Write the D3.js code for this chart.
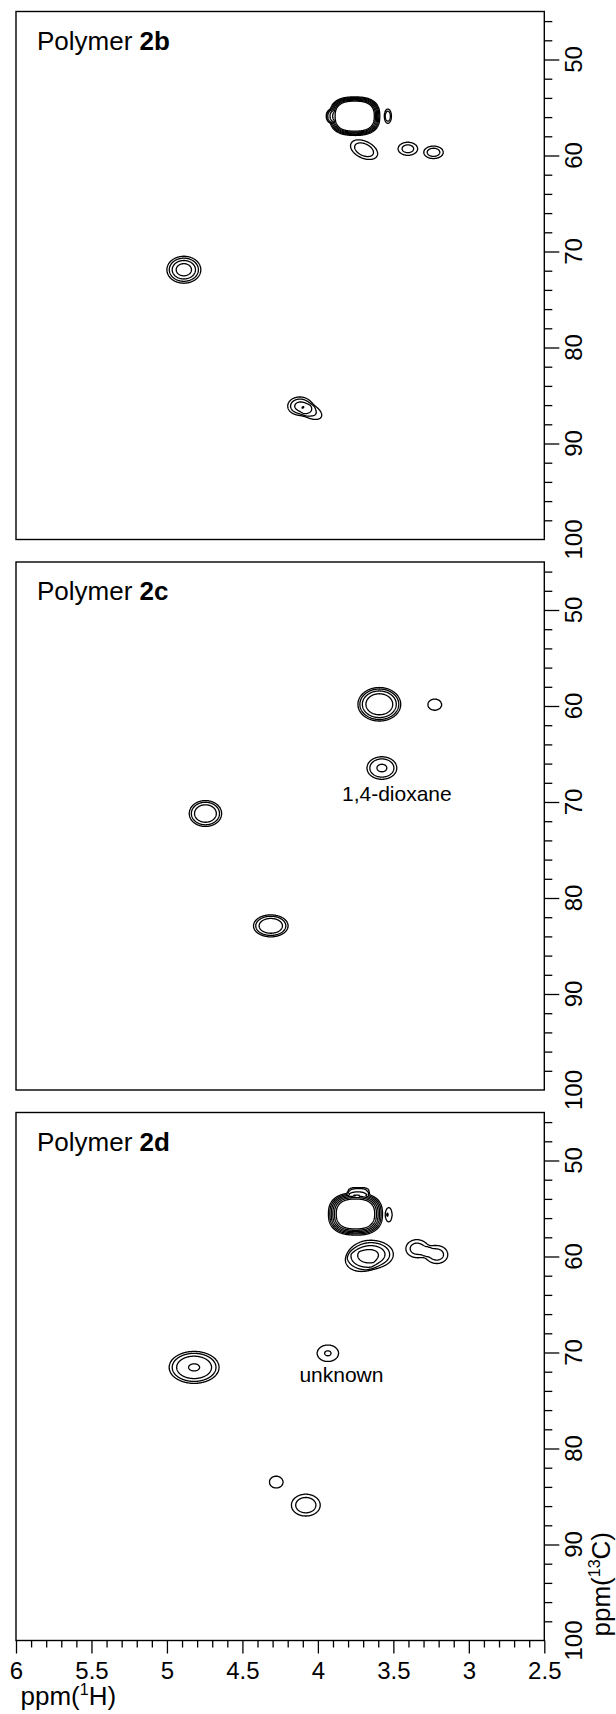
<!DOCTYPE html>
<html>
<head>
<meta charset="utf-8">
<script src="https://cdn.jsdelivr.net/npm/d3@7"></script>
<style>
  body { margin: 0; background: #fff; }
  svg { display: block; }
  text { font-family: "Liberation Sans", Arial, Helvetica, sans-serif; fill: #000; }
</style>
</head>
<body>
<svg id="chart" width="616" height="1714"></svg>
<script>
// panel names (bold part of the title)
const panelLabels = ["2b", "2c", "2d"];

// contour levels, in units of the lowest level
const levels = [1, 1.5, 2.25, 3.375, 5.06, 7.59];

// cross peaks: 1H ppm, 13C ppm, half width of lowest contour (ppm), height,
// tilt (deg), profile p, shape q, tail steepness
const peaks2b = [
  { h: 3.756, c: 55.9, wh: 0.166, wc: 2.0, amp: 180, q: 2.6 },
  { h: 3.918, c: 55.9, wh: 0.026, wc: 0.6, amp: 2.2, p: 3 },
  { h: 3.536, c: 55.9, wh: 0.024, wc: 0.75, amp: 1.8, p: 3 },
  { h: 3.694, c: 59.4, wh: 0.096, wc: 0.885, amp: 2.18, rot: 25 },
  { h: 3.404, c: 59.3, wh: 0.065, wc: 0.69, amp: 1.86 },
  { h: 3.234, c: 59.67, wh: 0.065, wc: 0.66, amp: 2.0 },
  { h: 4.888, c: 71.9, wh: 0.1126, wc: 1.406, amp: 4.6 },
  { h: 4.12, c: 86.1, wh: 0.08, wc: 0.95, amp: 2.6, tail: 1.5 },
  { h: 4.04, c: 86.75, wh: 0.07, wc: 0.65, amp: 1.5, rot: 25, tail: 1.5 },
];

const peaks2c = [
  { h: 3.593, c: 59.82, wh: 0.142, wc: 1.75, amp: 5, p: 3 },
  { h: 3.226, c: 59.86, wh: 0.0464, wc: 0.59, amp: 1.3, p: 3 },
  { h: 3.576, c: 66.46, wh: 0.0993, wc: 1.18, amp: 2.32, p: 3 },
  { h: 4.745, c: 71.2, wh: 0.1076, wc: 1.354, amp: 3.2, p: 3 },
  { h: 4.312, c: 82.9, wh: 0.115, wc: 1.15, amp: 3.2, p: 3 },
];

const peaks2d = [
  { h: 3.751, c: 55.57, wh: 0.179, wc: 2.19, amp: 60, q: 2.5 },
  { h: 3.73, c: 53.23, wh: 0.066, wc: 0.42, amp: 1.6, p: 3, q: 3 },
  { h: 3.53, c: 55.65, wh: 0.022, wc: 0.73, amp: 1.35, p: 3 },
  { h: 3.646, c: 59.78, wh: 0.146, wc: 1.46, amp: 3.7 },
  { h: 3.72, c: 60.5, wh: 0.09, wc: 1.0, amp: 1.25, tail: 1.5 },
  { h: 3.344, c: 59.18, wh: 0.073, wc: 0.94, amp: 1.9, tail: 1.5 },
  { h: 3.212, c: 59.8, wh: 0.073, wc: 0.94, amp: 1.9, tail: 1.5 },
  { h: 4.82, c: 71.55, wh: 0.1656, wc: 1.67, amp: 3.42, p: 3 },
  { h: 3.934, c: 70.08, wh: 0.0715, wc: 0.87, amp: 1.56 },
  { h: 4.276, c: 83.5, wh: 0.046, wc: 0.625, amp: 1.3 },
  { h: 4.08, c: 85.9, wh: 0.096, wc: 1.146, amp: 2.2 },
];

const panelPeaks = [peaks2b, peaks2c, peaks2d];

// text notes next to peaks
const notes2b = [];
const notes2c = [{ text: "1,4-dioxane", h: 3.477, c: 69.9 }];
const notes2d = [{ text: "unknown", h: 3.844, c: 73.04 }];
const panelNotes = [notes2b, notes2c, notes2d];

// axes
const hDomain = [6, 2.5];
const cDomain = [45, 100];
const xTickValues = [6, 5.5, 5, 4.5, 4, 3.5, 3, 2.5];
const yTickValues = [50, 60, 70, 80, 90, 100];

const plot = { left: 16, right: 544.3, top: 11.5, height: 528, step: 550.5 };
const cell = 0.5; // grid resolution in px

const svg = d3.select("#chart");

const x = d3.scaleLinear().domain(hDomain).range([plot.left, plot.right]);
const nx = Math.round((plot.right - plot.left) / cell);
const ny = Math.round(plot.height / cell);
const gx = d3.scaleLinear().domain([0, nx]).range(hDomain);
const gy = d3.scaleLinear().domain([0, ny]).range(cDomain);

const xMinor = d3.range(25, 61).map((d) => d / 10).filter((d) => !xTickValues.includes(d));
const yMinor = d3.range(46, 100, 2).filter((d) => !yTickValues.includes(d));

/** Sum of all cross peaks on the grid, in contour units. */
function field(peaks, y) {
  const prepared = peaks.map((pk) => {
    const cx = x(pk.h), cy = y(pk.c);
    const rx = Math.abs(x(pk.h - pk.wh) - cx);
    const ry = Math.abs(y(pk.c + pk.wc) - cy);
    const t = ((pk.rot || 0) * Math.PI) / 180;
    const lnA = Math.log(pk.amp);
    return {
      cx, cy, rx, ry,
      cos: Math.cos(t), sin: Math.sin(t),
      lnA, out: pk.tail || Math.max(lnA, 2.5),
      p: pk.p || 2, q: pk.q || 2,
      ext: 3.5 * Math.max(rx, ry),
    };
  });
  const xs = d3.range(nx).map((i) => x(gx(i + 0.5)));
  const values = new Float64Array(nx * ny);
  for (let j = 0; j < ny; j++) {
    const py = y(gy(j + 0.5));
    for (let i = 0; i < nx; i++) {
      const px = xs[i];
      let v = 0;
      for (const k of prepared) {
        const dx = px - k.cx, dy = py - k.cy;
        if (Math.abs(dx) > k.ext || Math.abs(dy) > k.ext) continue;
        const a = Math.abs((dx * k.cos + dy * k.sin) / k.rx);
        const b = Math.abs((-dx * k.sin + dy * k.cos) / k.ry);
        const d = k.q === 2 ? Math.sqrt(a * a + b * b) : Math.pow(Math.pow(a, k.q) + Math.pow(b, k.q), 1 / k.q);
        const e = k.p === 2 ? d * d : Math.pow(d, k.p);
        v += Math.exp((d < 1 ? k.lnA : k.out) * (1 - e));
      }
      values[j * nx + i] = v;
    }
  }
  return values;
}

panelLabels.forEach((label, idx) => {
  const top = plot.top + idx * plot.step;
  const y = d3.scaleLinear().domain(cDomain).range([top, top + plot.height]);
  const g = svg.append("g").attr("class", "panel");

  g.append("clipPath")
    .attr("id", `clip-${idx}`)
    .append("rect")
    .attr("x", plot.left)
    .attr("y", top)
    .attr("width", plot.right - plot.left)
    .attr("height", plot.height);

  // contours
  const values = field(panelPeaks[idx], y);
  const contours = d3.contours().size([nx, ny]).thresholds(levels)(values);
  const proj = d3.geoTransform({
    point: function (a, b) {
      this.stream.point(x(gx(a)), y(gy(b)));
    },
  });
  const path = d3.geoPath(proj);

  g.append("g")
    .attr("clip-path", `url(#clip-${idx})`)
    .attr("fill", "none")
    .attr("stroke", "#000")
    .attr("stroke-width", 1.3)
    .attr("stroke-linejoin", "round")
    .selectAll("path")
    .data(contours)
    .join("path")
    .attr("d", path);

  // frame
  g.append("rect")
    .attr("x", plot.left)
    .attr("y", top)
    .attr("width", plot.right - plot.left)
    .attr("height", plot.height)
    .attr("fill", "none")
    .attr("stroke", "#000")
    .attr("stroke-width", 1.4);

  // right axis: ticks
  g.append("g")
    .attr("transform", `translate(${plot.right},0)`)
    .call(d3.axisRight(y).tickValues(yMinor).tickSize(8).tickFormat(""))
    .call((s) => s.select(".domain").remove());
  g.append("g")
    .attr("transform", `translate(${plot.right},0)`)
    .call(d3.axisRight(y).tickValues(yTickValues.filter((d) => d < 100)).tickSize(15).tickFormat(""))
    .call((s) => s.select(".domain").remove());
  g.selectAll(".tick line").attr("stroke", "#000").attr("stroke-width", 1.3);

  // right axis: rotated labels
  g.selectAll("text.ylab")
    .data(yTickValues)
    .join("text")
    .attr("class", "ylab")
    .attr("transform", (d) => `translate(582,${y(d)}) rotate(-90)`)
    .attr("text-anchor", "middle")
    .attr("font-size", 24)
    .text((d) => d);

  // title
  const title = g.append("text")
    .attr("x", 37)
    .attr("y", top + 38)
    .attr("font-size", 26);
  title.append("tspan").text("Polymer ");
  title.append("tspan").attr("font-weight", "bold").text(label);

  // notes
  g.selectAll("text.note")
    .data(panelNotes[idx])
    .join("text")
    .attr("class", "note")
    .attr("x", (d) => x(d.h))
    .attr("y", (d) => y(d.c))
    .attr("text-anchor", "middle")
    .attr("font-size", 21)
    .text((d) => d.text);

  if (idx === panelLabels.length - 1) {
    const bottom = top + plot.height;
    // x axis
    g.append("g")
      .attr("transform", `translate(0,${bottom})`)
      .call(d3.axisBottom(x).tickValues(xMinor).tickSize(7).tickFormat(""))
      .call((s) => s.select(".domain").remove());
    const xa = g.append("g")
      .attr("transform", `translate(0,${bottom})`)
      .call(d3.axisBottom(x).tickValues(xTickValues).tickSize(13).tickPadding(8).tickFormat(d3.format("~g")))
      .call((s) => s.select(".domain").remove());
    xa.attr("font-size", 24).attr("font-family", null);
    g.selectAll(".tick line").attr("stroke", "#000").attr("stroke-width", 1.3);
    xa.selectAll("text").attr("fill", "#000");

    const xl = g.append("text")
      .attr("x", 20.5)
      .attr("y", 1705)
      .attr("font-size", 26);
    xl.append("tspan").text("ppm(");
    xl.append("tspan").attr("font-size", 16).attr("dy", -10).text("1");
    xl.append("tspan").attr("dy", 10).text("H)");

    const yl = g.append("text")
      .attr("transform", `translate(610,${bottom - 4}) rotate(-90)`)
      .attr("font-size", 26);
    yl.append("tspan").text("ppm(");
    yl.append("tspan").attr("font-size", 16).attr("dy", -10).text("13");
    yl.append("tspan").attr("dy", 10).text("C)");
  }
});
</script>
</body>
</html>
